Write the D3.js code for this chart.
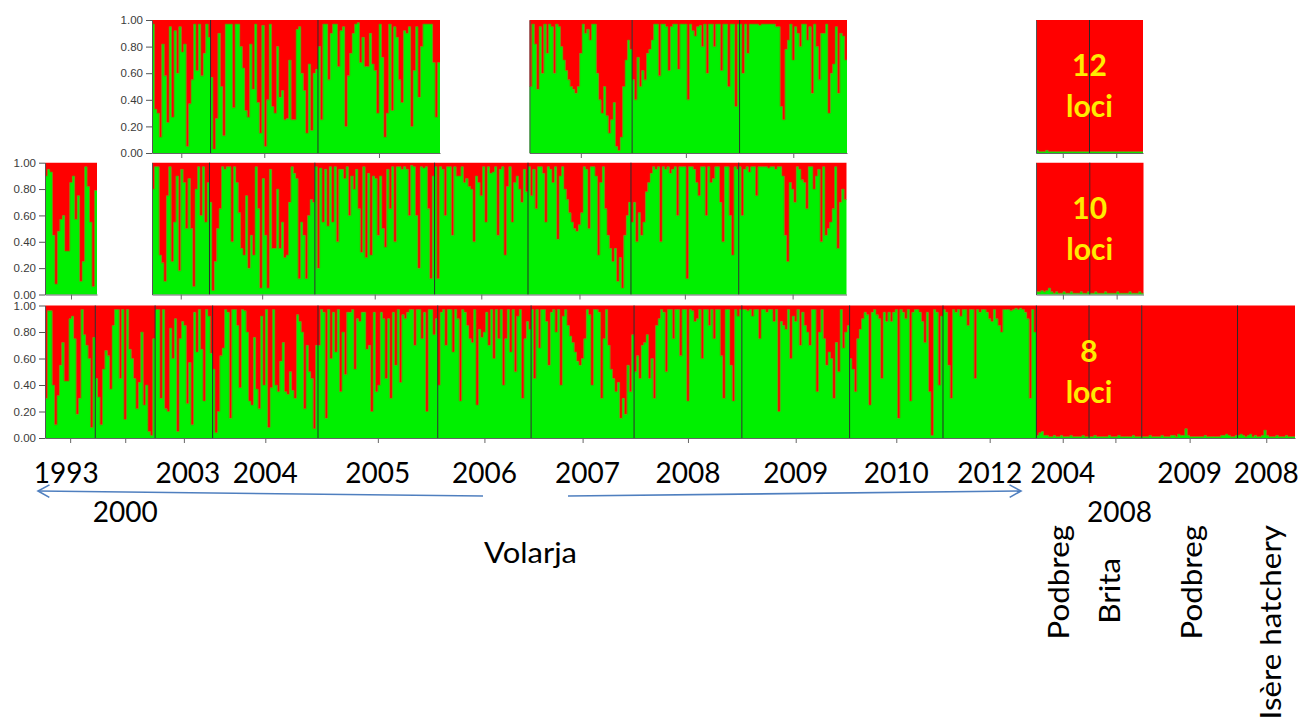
<!DOCTYPE html>
<html><head><meta charset="utf-8">
<script src="https://cdn.jsdelivr.net/npm/d3@7"></script>
<style>body{margin:0;background:#fff}svg{display:block}</style>
</head><body><svg id="c" width="1311" height="720"></svg>
<script>
// ---------- categories ----------
const popIds   = ["V1993","V2000","V2003","V2004","V2005","V2006","V2007","V2008","V2009","V2010","V2012","P2004","B2008","P2009","I2008"];
const popYears = ["1993","2000","2003","2004","2005","2006","2007","2008","2009","2010","2012","2004","2008","2009","2008"];
const popSites = ["","","","","","","","","","","","Podbreg","Brita","Podbreg","Isère hatchery"];
const yTicks = [0, 20, 40, 60, 80, 100];
const lociLabels = ["12", "10", "8"];
const regionLabel = "Volarja";

// ---------- membership in the green cluster (%), 8 loci ----------
const q8_V1993 = [30,96,96,40,10,32,55,72,43,43,90,92,75,18,30,97,78,70,60,8,76];
const q8_V2000 = [45,31,10,52,66,62,37,85,97,97,45,97,14,97,67,60,45,22,42,80,25,40,5,2,75];
const q8_V2003 = [97,97,30,97,22,20,83,60,90,5,75,88,85,26,57,10,95,65,97,67,28,97,92,64];
const q8_V2004 = [52,4,20,62,68,97,95,15,97,97,85,38,97,96,80,28,25,76,37,22,92,40,97,8,38,97,40,35,58,72,35,33,50,36,30,93,88,80,22,70,50,45,7,70];
const q8_V2005 = [70,97,95,15,97,60,95,65,97,35,80,48,95,95,97,52,90,88,95,95,67,70,20,95,35,40,95,90,45,90,30,95,55,97,42,93,90,95,97,97,70,97,97,75,95,20,97,97,78,90];
const q8_V2006 = [40,95,97,70,97,97,65,97,90,28,97,95,85,75,72,97,25,82,76,80,95,70,97,60,97,75,97,40,75,97,65,97,50,92,97,30,75,88,82];
const q8_V2007 = [97,45,97,68,97,97,88,55,95,97,80,97,40,92,97,85,77,72,65,58,55,60,75,97,93,40,97,97,95,30,75,97,70,52,45,35,42,15,30,18,55,35,78];
const q8_V2008 = [50,62,45,70,72,78,45,60,30,85,90,97,95,50,97,97,75,97,97,62,97,97,28,97,96,88,90,97,60,97,97,85,97,75,97,97,62,30,97,97,55,28,97,92,97];
const q8_V2009 = [97,97,96,97,92,97,97,75,97,97,95,97,97,88,97,20,88,85,82,97,60,92,88,97,70,95,85,80,70,97,97,35,80,97,75,55,65,60,30,72,50,97,68,80,85];
const q8_V2010 = [60,52,35,75,82,90,95,93,25,95,97,93,90,45,95,88,95,88,95,97,15,97,95,90,97,28,95,97,97,95,88,72,95,35,2,97,95,40,92];
const q8_V2012 = [97,95,55,30,97,95,97,92,97,97,85,97,97,45,97,95,97,97,95,90,88,97,90,85,80,97,97,97,96,97,98,97,98,97,95,90,30,97,80];
const q8_P2004 = [2,4,5,2,2,1,1,2,1,1,2,1,1,1,2,1,1,1,1,2,1,1];
const q8_B2008 = [1,1,2,1,1,1,1,1,2,1,1,1,2,1,1,1,1,1,2,1,1,1];
const q8_P2009 = [1,1,1,2,1,1,1,1,2,1,1,1,2,2,1,3,2,2,7,2,1,1,1,1,1,1,2,1,1,1,1,1,1,2,2,3,2,1,1,2];
const q8_I2008 = [2,3,2,1,2,3,1,2,1,1,2,6,2,1,1,1,2,1,1,1,2,1,1,1];

// ---------- 10 loci ----------
const q10_V1993 = [90,95,93,45,8,48,57,60,33,33,85,90,57,75,10,25,97,82,55,6,79];
const q10_V2003 = [80,97,97,30,24,10,75,97,25,55,90,18,95,85,50,88,50,6,80,97,60,97,55,85];
const q10_V2004 = [70,3,25,50,65,97,95,97,97,40,97,85,62,35,30,75,20,45,30,97,65,5,88,45,5,95,35,35,80,35,55,28,30,70,97,92,88,12,55,45,12,60,72,70];
const q10_V2005 = [97,20,96,55,95,52,97,55,97,40,95,95,88,97,60,90,80,95,65,32,97,28,92,30,90,88,45,90,50,36,95,65,97,40,97,97,95,97,95,60,98,97,60,20,97,96,97,65,12,90];
const q10_V2006 = [97,12,97,95,60,97,97,45,97,90,90,97,85,88,82,80,40,90,85,75,97,55,97,92,93,97,45,95,97,30,82,97,55,85,90,80,70,95,78];
const q10_V2007 = [97,75,95,65,97,97,92,55,97,95,85,97,42,90,97,80,72,62,55,50,48,53,62,97,95,50,97,97,90,30,85,97,65,45,35,25,35,10,28,5,45,60,70];
const q10_V2008 = [55,70,40,62,45,55,78,85,92,97,95,97,40,97,95,97,92,95,97,60,97,97,97,12,97,97,95,85,75,97,97,60,97,85,88,97,97,70,40,97,97,60,30,97,95];
const q10_V2009 = [97,60,95,97,93,97,97,75,97,97,97,97,96,97,97,95,97,97,90,45,25,85,80,70,97,95,87,85,65,97,97,80,90,95,40,97,45,50,55,65,97,35,70,80,72];
const q10_P2004 = [2,2,3,2,3,5,2,1,2,1,1,2,1,1,2,1,1,1,2,1,1,2];
const q10_B2008 = [1,1,2,1,1,1,2,1,1,1,1,2,1,1,1,1,2,1,1,1,2,1];

// ---------- 12 loci ----------
const q12_V2003 = [97,33,30,12,82,58,23,95,27,92,60,95,76,82,5,37,55,97,62,97,58,75,97,87];
const q12_V2004 = [57,3,26,90,50,13,97,97,97,34,97,97,80,64,32,27,82,48,97,38,15,96,5,40,97,35,30,80,42,47,25,26,70,25,25,93,95,60,47,15,67,17,60,63];
const q12_V2005 = [80,25,97,97,55,90,97,97,65,92,95,20,58,75,90,97,98,68,87,65,65,90,67,62,30,97,72,12,30,97,32,95,87,55,38,92,90,95,20,62,95,42,80,97,97,97,97,68,27,68];
const q12_V2007 = [50,97,82,48,95,60,97,75,97,95,60,97,95,80,70,62,55,50,48,45,50,75,97,90,93,85,97,97,60,40,30,50,28,15,25,38,5,2,12,50,70,85,78];
const q12_V2008 = [55,40,72,50,62,55,75,78,85,97,97,58,97,97,95,62,95,97,97,63,97,97,97,40,97,92,88,95,96,80,97,60,97,97,80,97,97,62,97,97,50,97,97,35,97];
const q12_V2009 = [97,60,97,75,97,97,97,97,96,97,97,97,97,97,97,95,95,35,25,78,85,97,70,95,90,80,97,97,85,95,45,97,80,55,90,90,97,30,60,67,95,45,90,88,70];
const q12_P2004 = [2,1,1,1,2,1,1,1,1,1,1,1,1,1,1,1,1,1,1,1,1,1];
const q12_B2008 = [1,1,1,1,1,1,1,1,1,1,1,1,1,1,1,1,1,1,1,1,1,1];

// ---------- tables built from the arrays ----------
const loci8  = {V1993:q8_V1993,V2000:q8_V2000,V2003:q8_V2003,V2004:q8_V2004,V2005:q8_V2005,V2006:q8_V2006,V2007:q8_V2007,V2008:q8_V2008,V2009:q8_V2009,V2010:q8_V2010,V2012:q8_V2012,P2004:q8_P2004,B2008:q8_B2008,P2009:q8_P2009,I2008:q8_I2008};
const loci10 = {V1993:q10_V1993,V2003:q10_V2003,V2004:q10_V2004,V2005:q10_V2005,V2006:q10_V2006,V2007:q10_V2007,V2008:q10_V2008,V2009:q10_V2009,P2004:q10_P2004,B2008:q10_B2008};
const loci12 = {V2003:q12_V2003,V2004:q12_V2004,V2005:q12_V2005,V2007:q12_V2007,V2008:q12_V2008,V2009:q12_V2009,P2004:q12_P2004,B2008:q12_B2008};
const rowData = [loci12, loci10, loci8];

// ---------- layout ----------
const GREEN = "#00f000", RED = "#ff0000", OLIVE = "#8c6a00";
const rowsLayout = [{top:20, bottom:153},{top:162.7, bottom:294.5},{top:305.5, bottom:438}];
const panelsLayout = [
  {row:0, pops:["V2003","V2004","V2005"], x0:152, x1:440, labels:true},
  {row:0, pops:["V2007","V2008","V2009"], x0:529.5, x1:847},
  {row:0, pops:["P2004","B2008"], x0:1036, x1:1143, loci:true},
  {row:1, pops:["V1993"], x0:45, x1:97, labels:true},
  {row:1, pops:["V2003","V2004","V2005","V2006","V2007","V2008","V2009"], x0:152, x1:846.5},
  {row:1, pops:["P2004","B2008"], x0:1036, x1:1143.5, loci:true},
  {row:2, pops:popIds, x0:45, x1:1295, labels:true, main:true, lociSpan:["P2004","B2008"]}
];
const yearRow   = {V2000:1, B2008:1};
const yearNudge = {V1993:-4, V2003:4, V2007:5, B2008:4};
const siteNudge = {P2004:6, B2008:5, P2009:12, I2008:15};
const siteEnd   = {P2004:525, B2008:558, P2009:525, I2008:525};
const yearBase = [483, 522];
const FONT = "Lato, 'Open Sans', sans-serif";

const svg = d3.select("#c");
let mainCenters = {};

panelsLayout.forEach((p, pi) => {
  const row = rowsLayout[p.row];
  const data = rowData[p.row];
  const y = d3.scaleLinear().domain([0,100]).range([row.bottom, row.top]);
  const inds = [];
  p.pops.forEach(pid => data[pid].forEach((v,i) => inds.push({pop:pid, i, v, key:pid+"_"+i})));
  const x = d3.scaleBand().domain(inds.map(d => d.key)).range([p.x0, p.x1]).padding(0);
  const bw = x.bandwidth();
  const g = svg.append("g");
  const centers = {};
  p.pops.forEach(pid => {
    const arr = inds.filter(d => d.pop === pid);
    const pts = arr.map(d => [x(d.key), d.v]);
    const last = arr[arr.length-1];
    pts.push([x(last.key) + bw, last.v]);
    centers[pid] = (x(arr[0].key) + x(last.key) + bw) / 2;
    const redArea = d3.area().x(d => d[0]).y0(d => y(d[1])).y1(y(100)).curve(d3.curveStepAfter);
    const greenArea = d3.area().x(d => d[0]).y0(y(0)).y1(d => y(d[1])).curve(d3.curveStepAfter);
    const edge = d3.line().x(d => d[0]).y(d => y(d[1])).curve(d3.curveStepAfter);
    g.append("path").attr("d", redArea(pts)).attr("fill", RED);
    g.append("path").attr("d", greenArea(pts)).attr("fill", GREEN);
    g.append("path").attr("d", edge(pts)).attr("fill","none").attr("stroke", OLIVE).attr("stroke-width", 0.9).attr("stroke-opacity",0.85);
  });
  // population dividers
  p.pops.slice(1).forEach(pid => {
    const xx = x(pid + "_0");
    g.append("line").attr("x1", xx).attr("x2", xx).attr("y1", y(0)).attr("y2", y(100))
      .attr("stroke", "#2a2a2a").attr("stroke-width", 1);
  });
  // y axis
  const ya = d3.axisLeft(y).tickValues(p.labels ? yTicks : []).tickFormat(d => (d/100).toFixed(2))
     .tickSize(6).tickPadding(3).tickSizeOuter(0);
  const yg = g.append("g").attr("transform", `translate(${p.x0},0)`).call(ya);
  yg.selectAll("text").attr("font-family","'Liberation Sans', Arial, sans-serif").attr("font-size",11.5).attr("fill","#3a3a3a");
  yg.selectAll("line,path").attr("stroke","#555");
  // x axis with ticks at population centers
  const xl = d3.scaleLinear().domain([p.x0, p.x1]).range([p.x0, p.x1]);
  const xg = g.append("g").attr("transform", `translate(0,${y(0)})`)
    .call(d3.axisBottom(xl).tickValues(p.pops.map(pid => centers[pid])).tickFormat("").tickSize(5).tickSizeOuter(0));
  xg.selectAll("line,path").attr("stroke","#666");
  // loci label
  if (p.loci || p.lociSpan) {
    const span = p.lociSpan || p.pops;
    const xa = x(span[0] + "_0");
    const lastPop = span[span.length-1];
    const xb = x(lastPop + "_" + (data[lastPop].length-1)) + bw;
    const cx = (xa + xb) / 2;
    const lt = g.append("text").attr("x", cx).attr("text-anchor","middle")
      .attr("font-family", FONT).attr("font-weight", "bold").attr("font-size", 30).attr("fill", "#ffec00");
    lt.append("tspan").attr("x", cx).attr("y", row.top + 56).text(lociLabels[p.row]);
    lt.append("tspan").attr("x", cx).attr("y", row.top + 97).text("loci");
  }
  if (p.main) mainCenters = centers;
});

// year labels
popIds.forEach((pid, i) => {
  const r = yearRow[pid] || 0;
  svg.append("text").attr("x", mainCenters[pid] + (yearNudge[pid] || 0)).attr("y", yearBase[r])
    .attr("text-anchor","middle").attr("font-family", FONT).attr("font-size", 28).attr("fill","#000")
    .text(popYears[i]);
  if (popSites[i]) {
    const sx = mainCenters[pid] + (siteNudge[pid] || 0);
    svg.append("text").attr("transform", `translate(${sx},${siteEnd[pid]}) rotate(-90) scale(1.12,1)`)
      .attr("text-anchor","end").attr("font-family", FONT).attr("font-size", 28).attr("fill","#000")
      .text(popSites[i]);
  }
});

// region label
svg.append("text").attr("x", 484).attr("y", 563)
  .attr("textLength", 93).attr("lengthAdjust", "spacingAndGlyphs")
  .attr("font-family", FONT).attr("font-size", 28).attr("fill","#000").text(regionLabel);

// arrows
const ARROW = "#4f7fbf";
function arrow(x1, y1, x2, y2) {
  const a = Math.atan2(y2 - y1, x2 - x1), L = 13, w = 0.5;
  const ag = svg.append("g").attr("stroke", ARROW).attr("stroke-width", 1.6).attr("fill","none");
  ag.append("line").attr("x1", x1).attr("y1", y1).attr("x2", x2).attr("y2", y2);
  ag.append("path").attr("d", d3.line()([
    [x2 - L*Math.cos(a - w), y2 - L*Math.sin(a - w)], [x2, y2],
    [x2 - L*Math.cos(a + w), y2 - L*Math.sin(a + w)]]));
}
arrow(483, 496, 38, 491);
arrow(568, 496, 1021, 491);
</script></body></html>
